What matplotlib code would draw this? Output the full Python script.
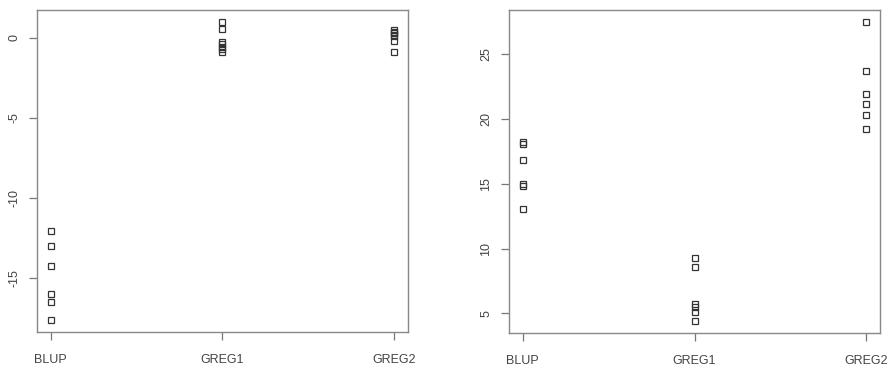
import numpy as np
import matplotlib.pyplot as plt

plt.rcParams['font.family'] = ['Liberation Sans', 'DejaVu Sans']

methods = ['BLUP', 'GREG1', 'GREG2']

# 左图数据（偏差）
left_blup = [-12.1, -13.0, -14.25, -16.0, -16.5, -17.65]
left_greg1 = [1.0, 0.58, -0.25, -0.4, -0.55, -0.7, -0.9]
left_greg2 = [0.5, 0.4, 0.3, 0.2, 0.1, -0.2, -0.85]

# 右图数据
right_blup = [18.2, 18.05, 16.8, 15.0, 14.85, 13.07]
right_greg1 = [9.3, 8.6, 5.7, 5.46, 5.13, 4.4]
right_greg2 = [27.5, 23.7, 21.9, 21.2, 20.3, 19.25]

left_ticks = [0, -5, -10, -15]
right_ticks = [5, 10, 15, 20, 25]

W, H = 890, 367
fig = plt.figure(figsize=(W / 100, H / 100), dpi=100)

def make_ax(x0, x1, y0, y1):
    return fig.add_axes([x0 / W, 1 - y1 / H, (x1 - x0) / W, (y1 - y0) / H])

def draw_panel(ax, groups, yticks):
    allv = np.concatenate([np.asarray(g, float) for g in groups])
    for i, g in enumerate(groups):
        ax.plot(np.full(len(g), i + 1), g, linestyle='none', marker='s',
                markersize=5, markerfacecolor='none', markeredgecolor='#333333',
                markeredgewidth=0.9)
    # R 风格: 每边扩展 4%
    lo, hi = allv.min(), allv.max()
    pad = 0.04 * (hi - lo)
    ax.set_ylim(lo - pad, hi + pad)
    ax.set_xlim(0.92, 3.08)
    ax.set_xticks([1, 2, 3])
    ax.set_xticklabels(methods)
    ax.set_yticks(yticks)
    ax.set_yticklabels([str(t).replace('-', '-') for t in yticks], rotation=90, va='center')
    for s in ax.spines.values():
        s.set_color('#888888')
        s.set_linewidth(1.0)
    ax.tick_params(direction='out', length=6, width=0.9, color='#777777',
                   labelsize=9, labelcolor='#444444', pad=6)
    ax.tick_params(axis='x', pad=10)

ax1 = make_ax(37, 408, 10, 332)
draw_panel(ax1, [left_blup, left_greg1, left_greg2], left_ticks)

ax2 = make_ax(509, 880, 10, 333)
draw_panel(ax2, [right_blup, right_greg1, right_greg2], right_ticks)

fig.savefig('out.png', dpi=100)
